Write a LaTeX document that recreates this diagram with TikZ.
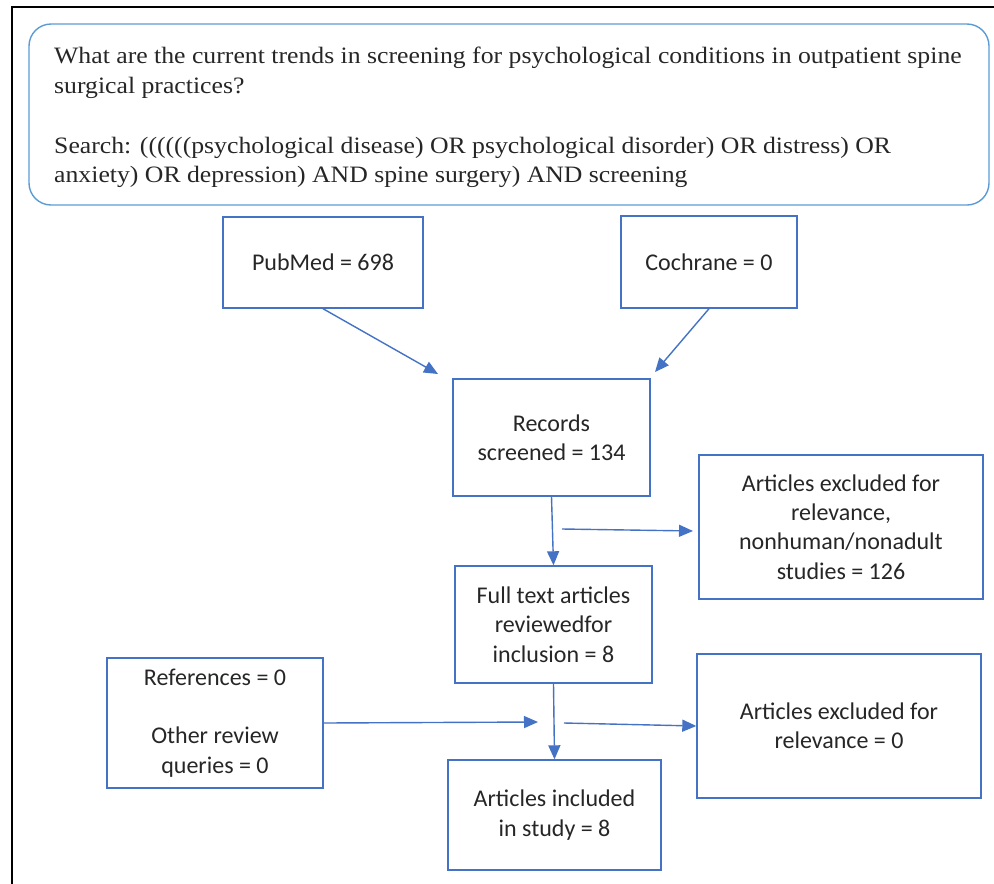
\documentclass[tikz,border=0pt]{standalone}
\usepackage{fontspec}
\setmainfont{Liberation Serif}
\newfontfamily\qfont[FakeStretch=1.095]{Liberation Serif}
\newfontfamily\boxfont{Carlito}
\usetikzlibrary{arrows.meta}
\definecolor{boxblue}{HTML}{4472C4}
\definecolor{roundblue}{HTML}{5B9BD5}
\begin{document}
\begin{tikzpicture}[x=1pt,y=-1pt,
  box/.style={draw=boxblue, line width=1.4pt, align=center, inner sep=0pt,
    font=\boxfont\fontsize{24}{29.3}\selectfont, text=black!85},
  arr/.style={draw=boxblue, line width=1.4pt, -{Triangle[length=14pt,width=12pt]}},
  qline/.style={anchor=base west, inner sep=0pt, font=\qfont\fontsize{23.5}{29.5}\selectfont, text=black!85},
]
\useasboundingbox (0,0) rectangle (994,884);
% outer frame (top and left only)
\draw[line width=2.2pt] (12,884) -- (12,7) -- (994,7);
% question box
\draw[draw=roundblue, line width=1.4pt, rounded corners=22pt] (29,24) rectangle (989,205);
\node[qline] (q1) at (54,63) {What are the current trends in screening for psychological conditions in outpatient spine};
\node[qline] (q2) at (54,93) {surgical practices?};
\node[qline] (s1) at (54,153) {Search: ((((((psychological disease) OR psychological disorder) OR distress) OR};
\node[qline] (s2) at (54,182) {anxiety) OR depression) AND spine surgery) AND screening};
% boxes
\node[box, minimum width=200pt, minimum height=91pt] (pubmed) at (323,262.5) {PubMed = 698};
\node[box, minimum width=176pt, minimum height=92pt] (cochrane) at (709,262) {Cochrane = 0};
\node[box, minimum width=197pt, minimum height=117pt] (records) at (551.5,437.5) {Records\\screened = 134};
\node[box, minimum width=284pt, minimum height=144pt] (excl1) at (841,527) {Articles excluded for\\relevance,\\nonhuman/nonadult\\studies = 126};
\node[box, minimum width=197pt, minimum height=117pt] (full) at (553.5,624.5) {Full text articles\\reviewedfor\\inclusion = 8};
\node[box, minimum width=216pt, minimum height=130pt] (refs) at (215,723) {References = 0\\[29.3pt]Other review\\queries = 0};
\node[box, minimum width=284pt, minimum height=144pt] (excl2) at (839,726) {Articles excluded for\\relevance = 0};
\node[box, minimum width=213pt, minimum height=110pt] (incl) at (554.5,815) {Articles included\\in study = 8};
% free arrow ends
\coordinate (pubtip) at (438,374);
\coordinate (cochtip) at (655,372);
\coordinate (ex1start) at (562,529);
\coordinate (ex1tip) at (693,531);
\coordinate (reftip) at (538,722);
\coordinate (ex2start) at (564,723);
% connectors
\draw[arr] (pubmed.south) -- (pubtip);
\draw[arr] (cochrane.south) -- (cochtip);
\draw[arr] (records.south) -- (full.north);
\draw[arr] (ex1start) -- (ex1tip);
\draw[arr] (full.south) -- (incl.north);
\draw[arr] (refs.east) -- (reftip);
\draw[arr] (ex2start) -- (excl2.west);
\end{tikzpicture}
\end{document}
